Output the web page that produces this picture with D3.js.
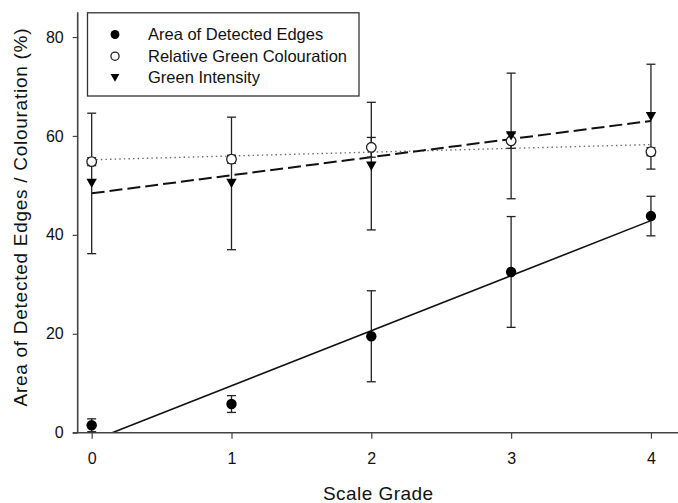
<!DOCTYPE html>
<html>
<head>
<meta charset="utf-8">
<script src="https://cdn.jsdelivr.net/npm/d3@7"></script>
<style>
  html, body { margin: 0; padding: 0; background: #fff; }
  svg text { font-family: "Liberation Sans", Arial, sans-serif; fill: #111; }
</style>
</head>
<body>
<svg id="chart" width="678" height="503"></svg>
<script>
// Scale grade categories
const grades = [0, 1, 2, 3, 4];

// Area of detected edges (%), mean and error
const edgeMean = [1.5, 5.8, 19.5, 32.5, 43.8];
const edgeErr  = [1.3, 1.7, 9.2, 11.2, 4.0];

// Relative green colouration (%), mean and error
const colourMean = [54.8, 55.3, 57.7, 59.0, 56.8];
const colourErr  = [0.8, 0.8, 2.0, 1.5, 0.8];

// Green intensity (%), mean and error
const intensityMean = [50.4, 50.4, 53.9, 60.0, 63.9];
const intensityErr  = [14.2, 13.4, 12.9, 12.7, 10.6];

const xTicks = [0, 1, 2, 3, 4];
const yTicks = [0, 20, 40, 60, 80];

const seriesNames = ["Area of Detected Edges", "Relative Green Colouration", "Green Intensity"];

const svg = d3.select("#chart");

const x = d3.scaleLinear().domain([-0.1, 4.2]).range([77.7, 678.9]);
const y = d3.scaleLinear().domain([0, 85]).range([432.7, 12.3]);

// least-squares fit of a series against grade
function fit(xs, ys) {
  const mx = d3.mean(xs), my = d3.mean(ys);
  let sxy = 0, sxx = 0;
  xs.forEach((xi, i) => { sxy += (xi - mx) * (ys[i] - my); sxx += (xi - mx) * (xi - mx); });
  const b = sxy / sxx;
  return { a: my - b * mx, b };
}

const defs = svg.append("defs");
defs.append("clipPath").attr("id", "plotClip")
  .append("rect")
  .attr("x", x(-0.1)).attr("y", y(85))
  .attr("width", x(4.2) - x(-0.1)).attr("height", y(0) - y(85));

const series = [
  { mean: edgeMean, err: edgeErr, marker: "filled",
    line: { stroke: "#111", width: 1.6, dash: null } },
  { mean: colourMean, err: colourErr, marker: "open",
    line: { stroke: "#666", width: 1.4, dash: "1.4,3.2" } },
  { mean: intensityMean, err: intensityErr, marker: "triangle",
    line: { stroke: "#111", width: 2, dash: "13,5" } }
];

// regression lines
const fitLayer = svg.append("g").attr("clip-path", "url(#plotClip)");
series.forEach(s => {
  const f = fit(grades, s.mean);
  const x0 = grades[0], x1 = grades[grades.length - 1];
  fitLayer.append("line")
    .attr("x1", x(x0)).attr("y1", y(f.a + f.b * x0))
    .attr("x2", x(x1)).attr("y2", y(f.a + f.b * x1))
    .attr("stroke", s.line.stroke)
    .attr("stroke-width", s.line.width)
    .attr("stroke-dasharray", s.line.dash);
});

// axes
const xAxis = d3.axisBottom(x).tickValues(xTicks).tickSize(6).tickPadding(14).tickFormat(d3.format("d"));
const yAxis = d3.axisLeft(y).tickValues(yTicks).tickSize(5).tickPadding(9).tickFormat(d3.format("d"));

const gx = svg.append("g").attr("transform", `translate(0,${y(0)})`).call(xAxis);
const gy = svg.append("g").attr("transform", `translate(${x(-0.1)},0)`).call(yAxis);

[gx, gy].forEach(g => {
  g.select(".domain").attr("stroke", "#444").attr("stroke-width", 1.6);
  g.selectAll(".tick line").attr("stroke", "#444").attr("stroke-width", 1.2);
  g.selectAll(".tick text").style("font-size", "16px")
    .style("font-family", '"Liberation Sans", Arial, sans-serif').attr("fill", "#111");
});
gy.select(".domain").attr("d", `M-0,${y(85)}V${y(0)}`);
gx.select(".domain").attr("d", `M${x(-0.1) - 5},0H${x(4.2)}`);

// error bars
const errLayer = svg.append("g");
const capHalf = 4.5;
series.forEach(s => {
  grades.forEach((g, i) => {
    const top = y(s.mean[i] + s.err[i]);
    const bot = y(Math.max(0, s.mean[i] - s.err[i]));
    const cx = x(g);
    const grp = errLayer.append("g").attr("stroke", "#222").attr("stroke-width", 1.3);
    grp.append("line").attr("x1", cx).attr("x2", cx).attr("y1", top).attr("y2", bot);
    grp.append("line").attr("x1", cx - capHalf).attr("x2", cx + capHalf).attr("y1", top).attr("y2", top);
    if (s.mean[i] - s.err[i] > 0) {
      grp.append("line").attr("x1", cx - capHalf).attr("x2", cx + capHalf).attr("y1", bot).attr("y2", bot);
    }
  });
});

// marker drawing
function drawMarker(g, type, cx, cy, scale) {
  const k = scale || 1;
  if (type === "filled") {
    g.append("circle").attr("cx", cx).attr("cy", cy).attr("r", 5.2 * k).attr("fill", "#000");
  } else if (type === "open") {
    g.append("circle").attr("cx", cx).attr("cy", cy).attr("r", 4.8 * k)
      .attr("fill", "#fff").attr("stroke", "#222").attr("stroke-width", 1.3);
  } else {
    const w = 5.2 * k, h = 4.6 * k;
    g.append("path")
      .attr("d", `M${cx - w},${cy - h}L${cx + w},${cy - h}L${cx},${cy + h}Z`)
      .attr("fill", "#000");
  }
}

const markLayer = svg.append("g");
series.forEach(s => {
  grades.forEach((g, i) => drawMarker(markLayer, s.marker, x(g), y(s.mean[i]), 1));
});

// legend
const legend = svg.append("g");
legend.append("rect")
  .attr("x", 87.5).attr("y", 12.8).attr("width", 271.5).attr("height", 83.2)
  .attr("fill", "#fff").attr("stroke", "#333").attr("stroke-width", 1.3);
series.forEach((s, i) => {
  const cyy = 34.5 + i * 21.7;
  drawMarker(legend, s.marker, 115, cyy, 0.85);
  legend.append("text")
    .attr("x", 148).attr("y", cyy + 5.5)
    .style("font-size", "16.5px")
    .text(seriesNames[i]);
});

// axis titles
svg.append("text")
  .attr("x", 378).attr("y", 500)
  .attr("text-anchor", "middle")
  .style("font-size", "19px")
  .attr("textLength", 110)
  .text("Scale Grade");

svg.append("text")
  .attr("transform", "translate(26.7,217.5) rotate(-90)")
  .attr("text-anchor", "middle")
  .style("font-size", "19px")
  .attr("textLength", 378)
  .text("Area of Detected Edges / Colouration (%)");
</script>
</body>
</html>
